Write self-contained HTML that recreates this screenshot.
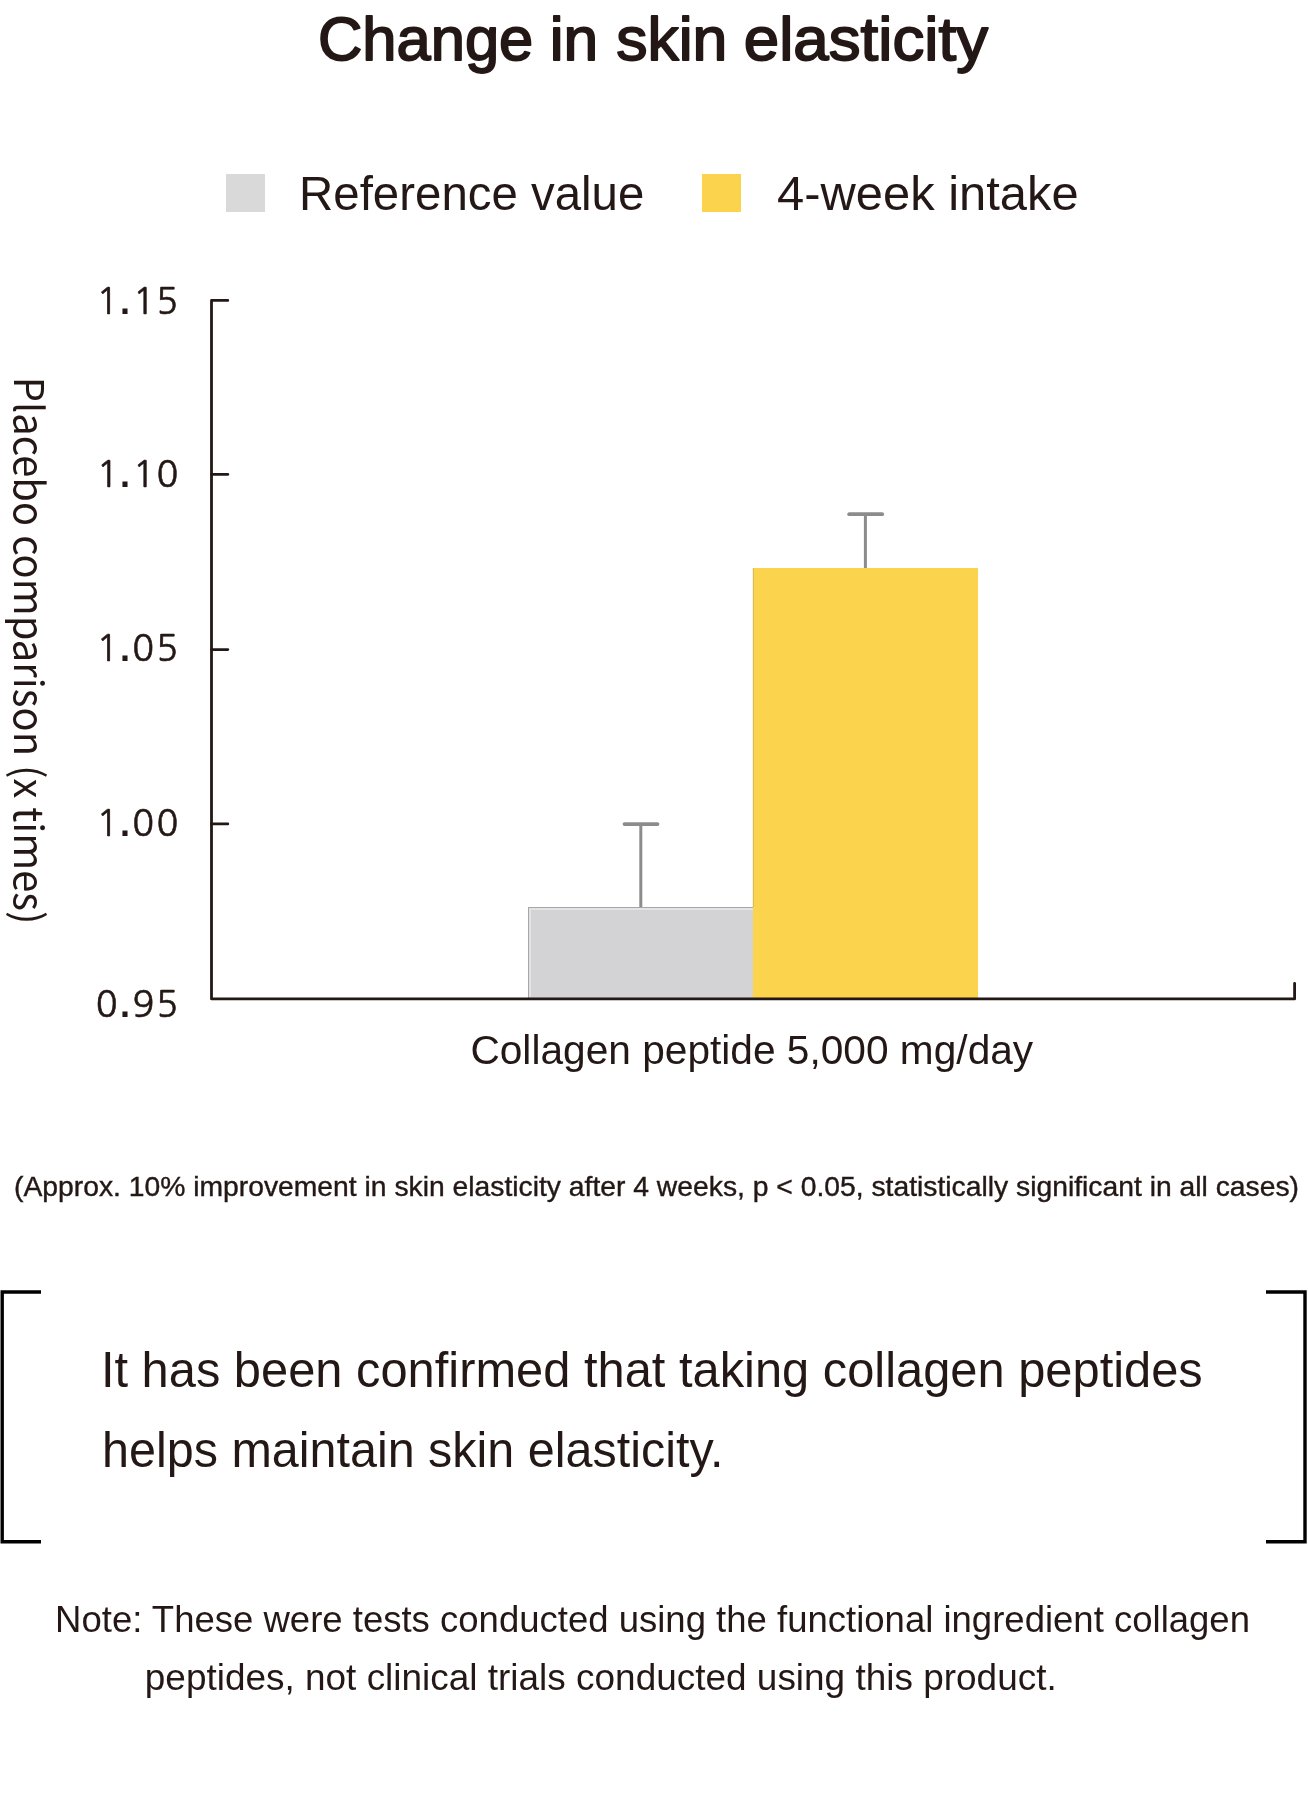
<!DOCTYPE html>
<html lang="en">
<head>
<meta charset="utf-8">
<title>Change in skin elasticity</title>
<style>
html,body{margin:0;padding:0;background:#fff;}
body{width:1308px;height:1798px;overflow:hidden;}
svg{display:block;filter:blur(0px);}
svg{font-family:"Liberation Sans",Arial,sans-serif;}
text{fill:#231815;}
</style>
</head>
<body>
<svg width="1308" height="1798" viewBox="0 0 1308 1798">
  <rect x="0" y="0" width="1308" height="1798" fill="#fff"/>

  <!-- Title -->
  <g stroke="#231815" stroke-width="1.8" stroke-linejoin="round" font-size="61">
  <text id="t-ti1" x="317.98" y="60" textLength="215.27" lengthAdjust="spacingAndGlyphs">Change</text>
  <text id="t-ti2" x="549.68" y="60" textLength="48.45" lengthAdjust="spacingAndGlyphs">in</text>
  <text id="t-ti3" x="616.17" y="60" textLength="111.26" lengthAdjust="spacingAndGlyphs">skin</text>
  <text id="t-ti4" x="743.81" y="60" textLength="244.19" lengthAdjust="spacingAndGlyphs">elasticity</text>
  </g>

  <!-- Legend -->
  <rect x="226" y="174" width="39" height="38" fill="#d9d9d9"/>
  <text id="t-leg1" x="299.09" y="210" font-size="48.5" textLength="345.28" lengthAdjust="spacingAndGlyphs">Reference value</text>
  <rect x="702" y="174" width="39" height="38" fill="#fcd34d"/>
  <text id="t-leg2" x="777.00" y="210" font-size="48.5" textLength="301.70" lengthAdjust="spacingAndGlyphs">4-week intake</text>

  <!-- Y tick labels -->
  <g font-size="36" stroke="#231815" stroke-width="0.6" style="font-family:'NanumGothic','Liberation Sans',sans-serif">
    <text id="t-y1" y="314.2"><tspan x="96.55">1</tspan><tspan x="120.04" stroke="none" font-weight="bold" style="font-family:'Liberation Sans',sans-serif">.</tspan><tspan x="132.95 156.14">15</tspan></text>
    <text id="t-y2" y="486.9"><tspan x="96.65">1</tspan><tspan x="120.04" stroke="none" font-weight="bold" style="font-family:'Liberation Sans',sans-serif">.</tspan><tspan x="133.1 156.58">10</tspan></text>
    <text id="t-y3" y="661.2"><tspan x="96.55">1</tspan><tspan x="120.04" stroke="none" font-weight="bold" style="font-family:'Liberation Sans',sans-serif">.</tspan><tspan x="132.33 156.24">05</tspan></text>
    <text id="t-y4" y="835.5"><tspan x="96.55">1</tspan><tspan x="120.04" stroke="none" font-weight="bold" style="font-family:'Liberation Sans',sans-serif">.</tspan><tspan x="132.33 156.58">00</tspan></text>
    <text id="t-y5" y="1017.2"><tspan x="95.83">0</tspan><tspan x="120.04" stroke="none" font-weight="bold" style="font-family:'Liberation Sans',sans-serif">.</tspan><tspan x="132.57 156.24">95</tspan></text>
  </g>

  <!-- Y axis title (rotated clockwise) -->
  <text id="t-ytitle" transform="translate(14,376.75) rotate(90)" x="0" y="0" font-size="40.5" textLength="547.8" lengthAdjust="spacingAndGlyphs" style="font-family:'Noto Sans CJK JP','Liberation Sans',sans-serif">Placebo comparison (x times)</text>

  <!-- Bars -->
  <rect x="528" y="907" width="225" height="92" fill="#d3d3d5"/>
  <path d="M528.5 999 V907.5 H753" fill="none" stroke="#a6a6a6" stroke-width="1"/>
  <path d="M530.1 997 V909 H753" fill="none" stroke="#e4e4e6" stroke-width="1.8"/>
  <rect x="753" y="568" width="225" height="431" fill="#fcd34d"/>
  <line x1="753.3" y1="568" x2="753.3" y2="907" stroke="#c9ad5a" stroke-width="0.8"/>

  <!-- Error bars -->
  <g stroke="#8c8c8c" stroke-width="3" fill="none" stroke-linecap="butt">
    <line x1="640.8" y1="824" x2="640.8" y2="907"/>
    <line x1="624.5" y1="824.1" x2="657.5" y2="824.1" stroke-width="3.8" stroke-linecap="round"/>
    <line x1="865.4" y1="514.2" x2="865.4" y2="568"/>
    <line x1="849.2" y1="514.2" x2="882.2" y2="514.2" stroke-width="3.8" stroke-linecap="round"/>
  </g>

  <!-- Axes -->
  <g stroke="#231815" stroke-width="2.8" fill="none" stroke-linejoin="round" stroke-linecap="round">
    <polyline points="227.8,300.4 211.5,300.4 211.5,998.9 1294.6,998.9 1294.6,983.3"/>
    <line x1="211.5" y1="474.4" x2="227.8" y2="474.4"/>
    <line x1="211.5" y1="649.6" x2="227.8" y2="649.6"/>
    <line x1="211.5" y1="823.9" x2="227.8" y2="823.9"/>
  </g>

  <!-- X label -->
  <text id="t-xlab" x="470.40" y="1064" font-size="41" textLength="562.80" lengthAdjust="spacingAndGlyphs">Collagen peptide 5,000 mg/day</text>

  <!-- Footnote -->
  <text id="t-foot" x="14.00" y="1196" font-size="28.5" stroke="#231815" stroke-width="0.4" textLength="1285.00" lengthAdjust="spacingAndGlyphs">(Approx. 10% improvement in skin elasticity after 4 weeks, p &lt; 0.05, statistically significant in all cases)</text>

  <!-- Brackets -->
  <g stroke="#000" stroke-width="3.4" fill="none">
    <polyline points="41,1292 2.2,1292 2.2,1541.7 41,1541.7"/>
    <polyline points="1266,1292 1305,1292 1305,1541.7 1266,1541.7"/>
  </g>

  <!-- Statement -->
  <text id="t-s1" x="100.90" y="1387" font-size="49.2" textLength="1101.89" lengthAdjust="spacingAndGlyphs">It has been confirmed that taking collagen peptides</text>
  <text id="t-s2" x="102.00" y="1467" font-size="49.2" textLength="621.60" lengthAdjust="spacingAndGlyphs">helps maintain skin elasticity.</text>

  <!-- Note -->
  <text id="t-n1" x="55.10" y="1632" font-size="37.2" textLength="1194.90" lengthAdjust="spacingAndGlyphs">Note: These were tests conducted using the functional ingredient collagen</text>
  <text id="t-n2" x="144.80" y="1690" font-size="37.2" textLength="911.90" lengthAdjust="spacingAndGlyphs">peptides, not clinical trials conducted using this product.</text>
</svg>
</body>
</html>
